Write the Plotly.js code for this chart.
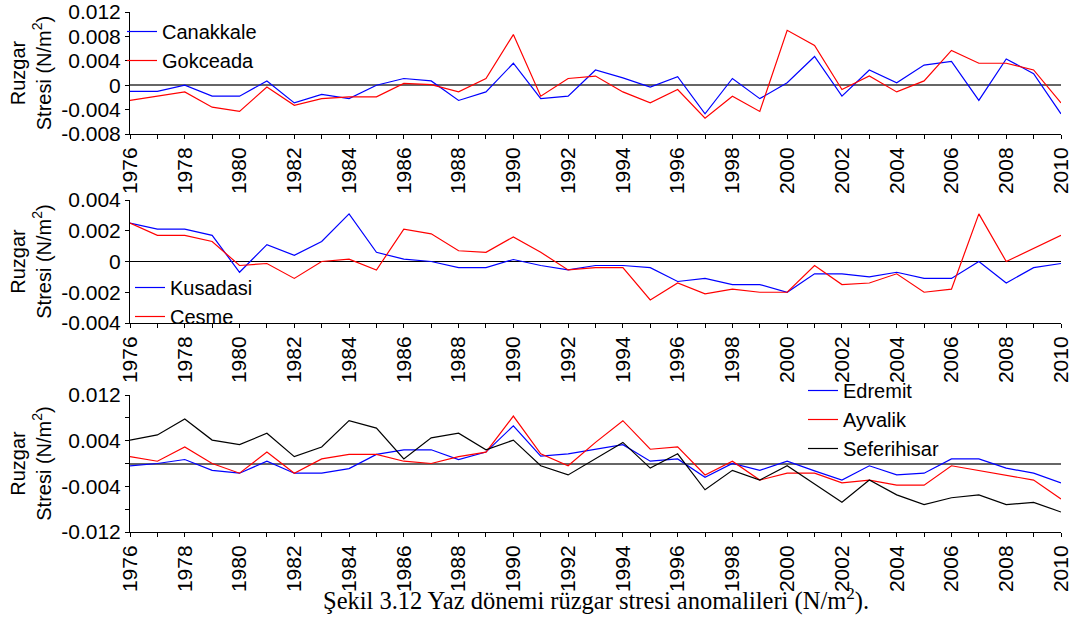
<!DOCTYPE html>
<html>
<head>
<meta charset="utf-8">
<script src="https://cdn.plot.ly/plotly-3.0.1.min.js"></script>
<style>
html,body{margin:0;padding:0;background:#fff;}
#chart{width:1091px;height:619px;}
</style>
</head>
<body>
<div id="chart"></div>
<script>
// ---- data ----
var years = [];
for (var yr = 1976; yr <= 2010; yr++) years.push(yr);

var canakkale = [-0.0010,-0.0010,0.0000,-0.0018,-0.0018,0.0007,-0.0029,-0.0015,-0.0022,0.0000,
  0.0011,0.0007,-0.0025,-0.0011,0.0036,-0.0022,-0.0018,0.0025,0.0012,-0.0003,
  0.0014,-0.0047,0.0011,-0.0022,0.0004,0.0047,-0.0018,0.0025,0.0004,0.0033,
  0.0039,-0.0025,0.0043,0.0019,-0.0047];
var gokceada = [-0.0025,-0.0018,-0.0011,-0.0036,-0.0043,-0.0003,-0.0033,-0.0022,-0.0019,-0.0019,
  0.0003,0.0001,-0.0011,0.0011,0.0083,-0.0018,0.0011,0.0015,-0.0011,-0.0029,
  -0.0007,-0.0054,-0.0018,-0.0043,0.0090,0.0065,-0.0007,0.0015,-0.0011,0.0007,
  0.0057,0.0036,0.0036,0.0025,-0.0029];

var kusadasi = [0.0025,0.0021,0.0021,0.0017,-0.0007,0.0011,0.0004,0.0013,0.0031,0.0006,
  0.00015,0.0000,-0.0004,-0.0004,0.00013,-0.00026,-0.00055,-0.00026,-0.00026,-0.0004,
  -0.0013,-0.0011,-0.0015,-0.0015,-0.0020,-0.0008,-0.0008,-0.0010,-0.0007,-0.0011,
  -0.0011,0.0000,-0.0014,-0.0004,-0.00013];
var cesme = [0.0025,0.0017,0.0017,0.0013,-0.00026,-0.00013,-0.0011,0.0000,0.00015,-0.00055,
  0.0021,0.0018,0.0007,0.0006,0.0016,0.0006,-0.00055,-0.0004,-0.0004,-0.0025,
  -0.0014,-0.0021,-0.0018,-0.0020,-0.0020,-0.00026,-0.0015,-0.0014,-0.0008,-0.0020,
  -0.0018,0.0031,0.0000,0.00086,0.0017];

var edremit = [-0.0004,0.0000,0.0007,-0.0012,-0.0017,0.0004,-0.0017,-0.0017,-0.0009,0.0016,
  0.0024,0.0024,0.0007,0.0020,0.0066,0.0013,0.0017,0.0025,0.0033,0.0004,
  0.0008,-0.0024,0.0000,-0.0012,0.0004,-0.0013,-0.0029,-0.0004,-0.0020,-0.0017,
  0.0008,0.0008,-0.0008,-0.0017,-0.0034];
var ayvalik = [0.0012,0.0004,0.0029,0.0000,-0.0017,0.0020,-0.0017,0.0008,0.0016,0.0016,
  0.0004,0.0000,0.0012,0.0020,0.0083,0.0017,-0.0004,0.0037,0.0075,0.0025,
  0.0029,-0.0020,0.0004,-0.0029,-0.0017,-0.0017,-0.0034,-0.0029,-0.0038,-0.0038,
  -0.0004,-0.0012,-0.0020,-0.0029,-0.0062];
var seferihisar = [0.0041,0.0050,0.0078,0.0041,0.0033,0.0053,0.0012,0.0029,0.0075,0.0062,
  0.0008,0.0045,0.0053,0.0024,0.0041,-0.0004,-0.0020,0.0008,0.0037,-0.0008,
  0.0017,-0.0046,-0.0012,-0.0029,-0.0004,-0.0036,-0.0068,-0.0029,-0.0055,-0.0072,
  -0.0060,-0.0055,-0.0072,-0.0068,-0.0085];

// tick labels
var xTickVals = years.filter(function(v){ return v % 2 === 0; });
var xTickText = xTickVals.map(String);
var y1TickVals = [-0.008,-0.004,0,0.004,0.008,0.012];
var y1TickText = ['-0.008','-0.004','0','0.004','0.008','0.012'];
var y2TickVals = [-0.004,-0.002,0,0.002,0.004];
var y2TickText = ['-0.004','-0.002','0','0.002','0.004'];
var y3TickVals = [-0.012,-0.004,0.004,0.012];
var y3TickText = ['-0.012','-0.004','0.004','0.012'];

var yTitle = 'Ruzgar<br>Stresi (N/m<sup>2</sup>)';
var caption = 'Şekil 3.12 Yaz dönemi rüzgar stresi anomalileri (N/m<sup>2</sup>).';

// ---- layout helpers ----
var W = 1091, H = 619;
var FONT = 'Arial, "Liberation Sans", sans-serif';
var xDom = [130/W, 1061/W];
function py(top, bottom){ return [(H-bottom)/H, (H-top)/H]; }

function xAxis(anchor){
  return {
    domain: xDom, anchor: anchor, range: [1976, 2010],
    tickmode: 'array', tickvals: xTickVals, ticktext: xTickText,
    tickangle: -90, ticks: 'outside', ticklen: 4, tickcolor: '#000',
    minor: {dtick: 1, tick0: 1976, ticks: 'outside', ticklen: 4, tickcolor: '#000', showgrid: false},
    showline: true, linecolor: '#000', linewidth: 1,
    showgrid: false, zeroline: false,
    tickfont: {family: FONT, size: 21, color: '#000'}
  };
}
function yAxis(anchor, dom, range, tv, tt, zc, zw, minorDtick){
  var ax = {
    domain: dom, anchor: anchor, range: range,
    tickmode: 'array', tickvals: tv, ticktext: tt,
    ticks: 'outside', ticklen: 4, tickcolor: '#000',
    showline: true, linecolor: '#000', linewidth: 1,
    showgrid: false, zeroline: true, zerolinecolor: zc, zerolinewidth: zw,
    tickfont: {family: FONT, size: 21, color: '#000'},
    title: {text: yTitle, font: {family: FONT, size: 20, color: '#000'}, standoff: 4}
  };
  if (minorDtick) ax.minor = {dtick: minorDtick, tick0: 0, ticks: 'outside', ticklen: 4, tickcolor: '#000', showgrid: false};
  return ax;
}

function line(name, y, color, xa, ya, lg){
  return {x: years, y: y, name: name, type: 'scatter', mode: 'lines',
    line: {color: color, width: 1.2}, xaxis: xa, yaxis: ya, legend: lg};
}

var data = [
  line('Canakkale', canakkale, '#0000ff', 'x', 'y', 'legend'),
  line('Gokceada', gokceada, '#ff0000', 'x', 'y', 'legend'),
  line('Kusadasi', kusadasi, '#0000ff', 'x2', 'y2', 'legend2'),
  line('Cesme', cesme, '#ff0000', 'x2', 'y2', 'legend2'),
  line('Edremit', edremit, '#0000ff', 'x3', 'y3', 'legend3'),
  line('Ayvalik', ayvalik, '#ff0000', 'x3', 'y3', 'legend3'),
  line('Seferihisar', seferihisar, '#000000', 'x3', 'y3', 'legend3')
];

function legendAt(x, y){
  return {x: x, y: y, xanchor: 'left', yanchor: 'top', bgcolor: 'rgba(0,0,0,0)',
    borderwidth: 0, font: {family: FONT, size: 20, color: '#000'}, tracegroupgap: 0};
}

var layout = {
  width: W, height: H,
  margin: {l: 0, r: 0, t: 0, b: 0},
  paper_bgcolor: '#fff', plot_bgcolor: '#fff',
  showlegend: true,
  xaxis: xAxis('y'),
  yaxis: yAxis('x', py(12, 134), [-0.008, 0.012], y1TickVals, y1TickText, '#666', 2),
  xaxis2: xAxis('y2'),
  yaxis2: yAxis('x2', py(200, 323), [-0.004, 0.004], y2TickVals, y2TickText, '#000', 1),
  xaxis3: xAxis('y3'),
  yaxis3: yAxis('x3', py(395, 532), [-0.012, 0.012], y3TickVals, y3TickText, '#666', 2, 0.004),
  legend: legendAt(122/W, 1 - 12/H),
  legend2: legendAt(130/W, 1 - 268/H),
  legend3: legendAt(803/W, 1 - 371/H),
  annotations: [{
    text: caption, xref: 'paper', yref: 'paper', x: 596/W, y: 1 - 599/H,
    xanchor: 'center', yanchor: 'middle', showarrow: false,
    font: {family: '"Liberation Serif", "Times New Roman", serif', size: 24.5, color: '#000'}
  }]
};

Plotly.newPlot('chart', data, layout, {displayModeBar: false, staticPlot: true});
</script>
</body>
</html>
